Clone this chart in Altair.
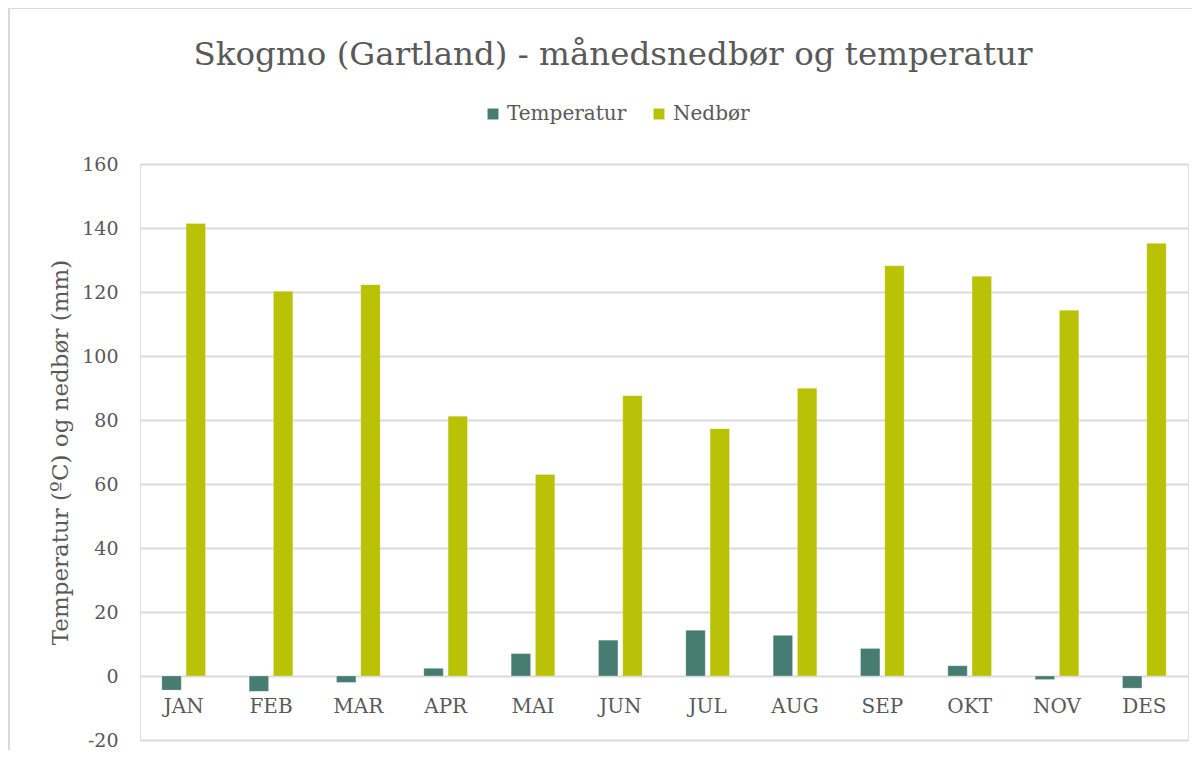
import altair as alt
import pandas as pd

months = ["JAN", "FEB", "MAR", "APR", "MAI", "JUN", "JUL", "AUG", "SEP", "OKT", "NOV", "DES"]
temperatur = [-4.4, -4.8, -2.0, 2.4, 7.0, 11.2, 14.3, 12.7, 8.6, 3.2, -1.1, -3.8]
nedbor = [141.4, 120.2, 122.3, 81.2, 63.0, 87.6, 77.3, 89.9, 128.2, 124.9, 114.3, 135.2]
series = ["Temperatur", "Nedbør"]
colors = ["#467c72", "#b9c206"]
y_ticks = [-20, 0, 20, 40, 60, 80, 100, 120, 140, 160]

rows = []
for m, t, n in zip(months, temperatur, nedbor):
    rows.append({"month": m, "series": series[0], "value": t})
    rows.append({"month": m, "series": series[1], "value": n})
df = pd.DataFrame(rows)

FONT = "DejaVu Serif"
TXT = "#595959"
W, H = 1048, 576

bars = alt.Chart(df).mark_bar(stroke="#ffffff", strokeWidth=0.5, strokeOpacity=0.5).encode(
    x=alt.X("month:N", sort=months, title=None,
            scale=alt.Scale(paddingInner=0.5, paddingOuter=0.25),
            axis=alt.Axis(labelAngle=0, domain=False, ticks=False, grid=False,
                          offset=-64, labelPadding=20, labelFont=FONT,
                          labelFontSize=20, labelColor=TXT)),
    xOffset=alt.XOffset("series:N", sort=series,
                        scale=alt.Scale(paddingInner=0.2, paddingOuter=0)),
    y=alt.Y("value:Q", title="Temperatur (ºC) og nedbør (mm)",
            scale=alt.Scale(domain=[-20, 160], nice=False, zero=True),
            axis=alt.Axis(values=y_ticks, domain=False, ticks=False, grid=True,
                          gridColor="#d9d9d9", gridWidth=2,
                          labelExpr="'' + datum.value",
                          labelFont=FONT, labelFontSize=19, labelColor=TXT,
                          labelPadding=22, titleFont=FONT, titleFontSize=23,
                          titleFontWeight="normal", titleColor=TXT,
                          titlePadding=9)),
    color=alt.Color("series:N", sort=series,
                    scale=alt.Scale(domain=series, range=colors),
                    legend=alt.Legend(title=None, orient="none", direction="horizontal",
                                      legendX=343, legendY=-60,
                                      symbolType="square", symbolSize=120,
                                      symbolStrokeWidth=0, labelFont=FONT,
                                      labelFontSize=20, labelColor=TXT,
                                      columnPadding=22, labelOffset=4, padding=0)),
)

frame_df = pd.DataFrame({"k": [0]})
frame_top = alt.Chart(frame_df).mark_rule(color="#d9d9d9", strokeWidth=2, clip=False).encode(
    x=alt.value(-131), x2=alt.value(W + 100), y=alt.value(-156)
)
frame_left = alt.Chart(frame_df).mark_rule(color="#d9d9d9", strokeWidth=2, clip=False).encode(
    x=alt.value(-131), y=alt.value(-156), y2=alt.value(H + 100)
)

chart = alt.layer(frame_top, frame_left, bars).properties(
    width=W, height=H,
    autosize=alt.AutoSizeParams(type="none"),
    padding={"left": 132, "top": 156, "right": 4, "bottom": 10},
    title=alt.TitleParams("Skogmo (Gartland) - månedsnedbør og temperatur",
                          anchor="middle", frame="group", dx=-51, offset=-64,
                          font=FONT, fontSize=32.5, fontWeight="normal", color=TXT),
).configure_view(stroke=None).configure(background="white")

chart.save("out.html", embed_options={"renderer": "svg", "actions": False})
